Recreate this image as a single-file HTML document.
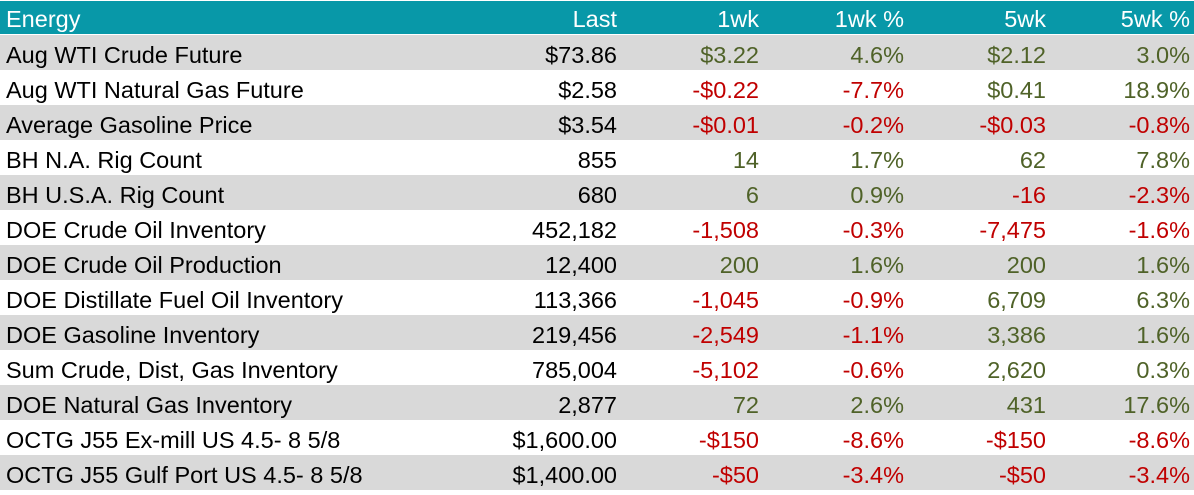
<!DOCTYPE html>
<html><head><meta charset="utf-8"><style>
body{margin:0;width:1194px;height:491px;background:#fff;overflow:hidden;font-family:"Liberation Sans",sans-serif;}
.row{position:absolute;left:0;width:1194px;height:35px;}
.c{position:absolute;top:0;height:35px;line-height:40px;font-size:23.5px;white-space:nowrap;}
.n{left:6px;}
.r{text-align:right;}
.hdr{background:#0898a8;color:#fff;top:1px;height:33px;}
.hdr .c{height:33px;line-height:37px;}
.g{background:#d9d9d9;}
.pos{color:#4f6228;}.neg{color:#c00000;}
</style></head><body>
<div id="tbl"></div>
<script>
const names=["Aug WTI Crude Future","Aug WTI Natural Gas Future","Average Gasoline Price","BH N.A. Rig Count","BH U.S.A. Rig Count","DOE Crude Oil Inventory","DOE Crude Oil Production","DOE Distillate Fuel Oil Inventory","DOE Gasoline Inventory","Sum Crude, Dist, Gas Inventory","DOE Natural Gas Inventory","OCTG J55 Ex-mill US 4.5- 8 5/8","OCTG J55 Gulf Port US 4.5- 8 5/8"];
const last=["$73.86","$2.58","$3.54","855","680","452,182","12,400","113,366","219,456","785,004","2,877","$1,600.00","$1,400.00"];
const wk1=["$3.22","-$0.22","-$0.01","14","6","-1,508","200","-1,045","-2,549","-5,102","72","-$150","-$50"];
const wk1p=["4.6%","-7.7%","-0.2%","1.7%","0.9%","-0.3%","1.6%","-0.9%","-1.1%","-0.6%","2.6%","-8.6%","-3.4%"];
const wk5=["$2.12","$0.41","-$0.03","62","-16","-7,475","200","6,709","3,386","2,620","431","-$150","-$50"];
const wk5p=["3.0%","18.9%","-0.8%","7.8%","-2.3%","-1.6%","1.6%","6.3%","1.6%","0.3%","17.6%","-8.6%","-3.4%"];
const rights=[617,759,904,1046,1190];
const tbl=document.getElementById('tbl');
function cell(row,text,right,cls,name){
  const d=document.createElement('div');
  
  
  d.className='c '+cls;
  if(right!==null){d.style.right=(1194-right)+'px';}
  d.textContent=text;row.appendChild(d);
}
const h=document.createElement('div');


h.className='row hdr';
tbl.appendChild(h);
cell(h,'Energy',null,'n','header-energy');
['Last','1wk','1wk %','5wk','5wk %'].forEach((t,i)=>cell(h,t,rights[i],'r','header-'+t.replace(' %','-pct').toLowerCase()));
names.forEach((n,i)=>{
  const r=document.createElement('div');
  
  
  r.className='row'+(i%2===0?' g':'');
  r.style.top=(35+i*35)+'px';
  tbl.appendChild(r);
  cell(r,n,null,'n','row-name');
  cell(r,last[i],rights[0],'r','last-value');
  [wk1,wk1p,wk5,wk5p].forEach((arr,j)=>{
    const v=arr[i];
    cell(r,v,rights[j+1],'r '+(v.startsWith('-')?'neg':'pos'),['change-1wk','change-1wk-pct','change-5wk','change-5wk-pct'][j]);
  });
});
</script>
</body></html>
